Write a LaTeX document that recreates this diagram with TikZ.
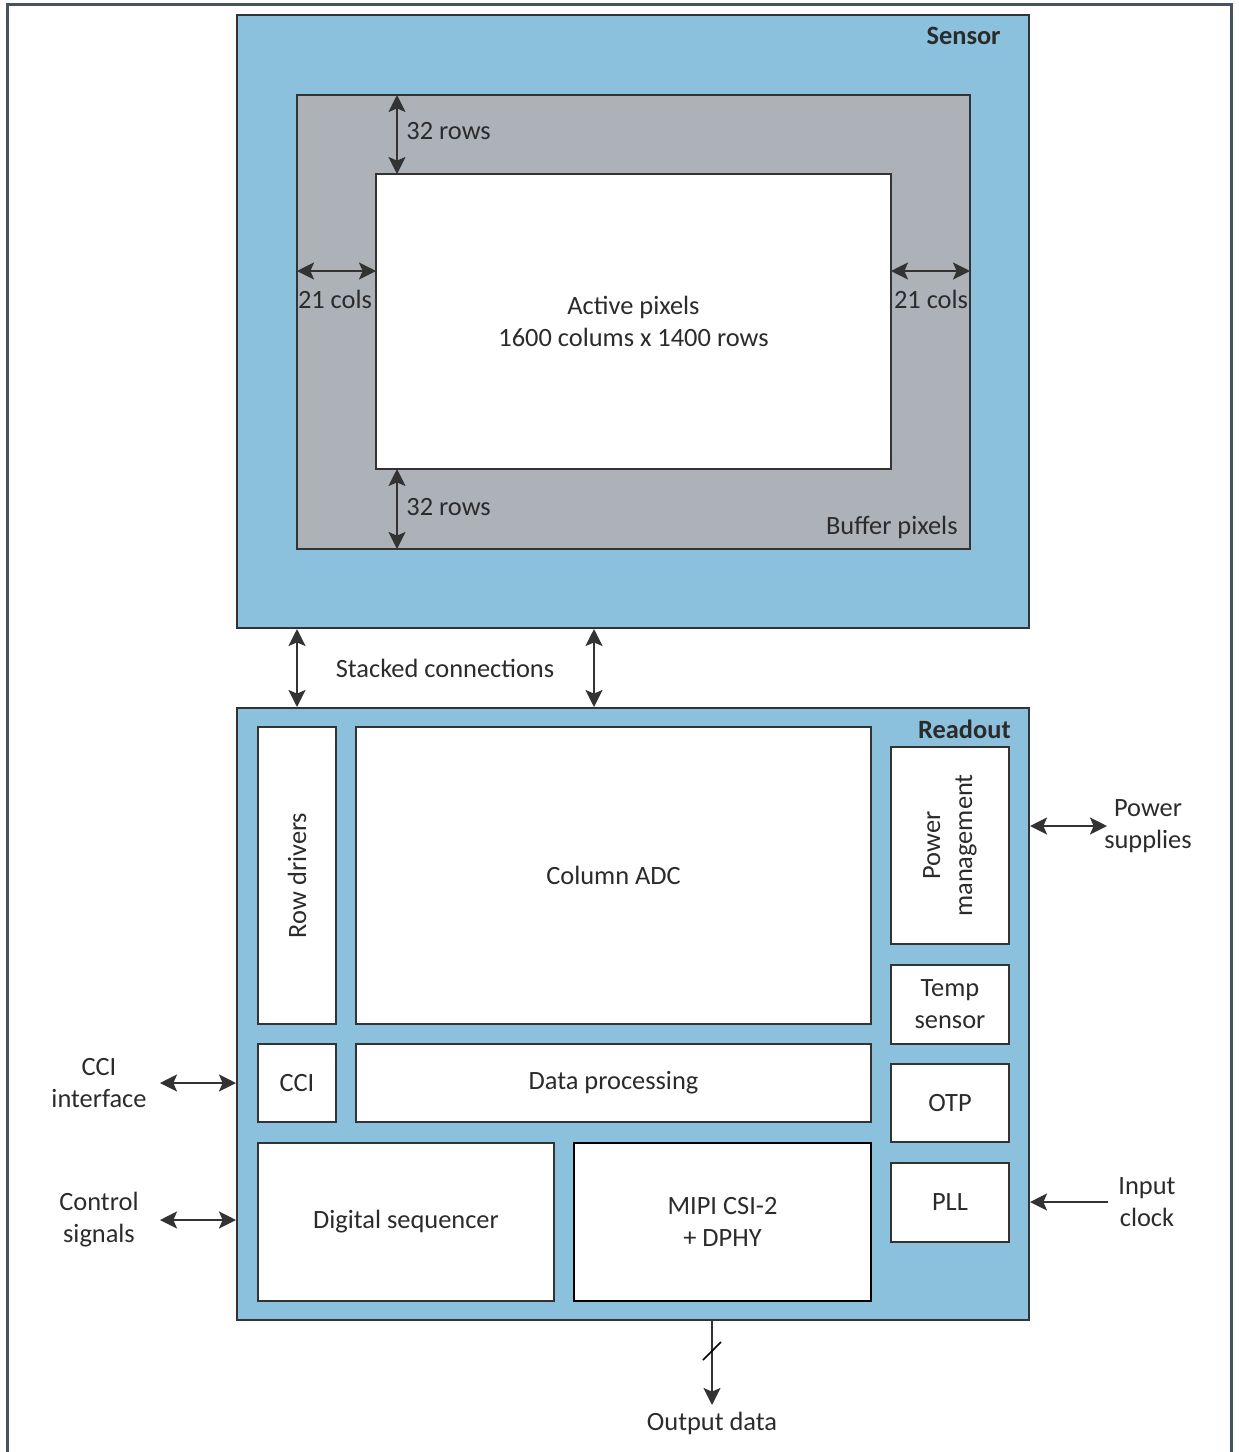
\documentclass[tikz,border=0pt]{standalone}
\usepackage{fontspec}
\setmainfont{Carlito}
\usetikzlibrary{arrows.meta,fit}
\definecolor{frameC}{HTML}{46545E}
\definecolor{skyC}{HTML}{8BC1DC}
\definecolor{bufC}{HTML}{ADB1B8}
\definecolor{lineC}{HTML}{333333}
\definecolor{txtC}{HTML}{2B2B2B}
\begin{document}
\begin{tikzpicture}[x=0.5pt,y=-0.5pt,
  every node/.style={font=\fontsize{13.2}{16}\selectfont, text=txtC},
  region/.style={draw=lineC, line width=1pt, inner sep=0pt},
  blk/.style={draw=lineC, line width=1pt, fill=white, inner sep=0pt},
  conn/.style={draw=lineC, line width=1.1pt, {Stealth[length=8.5pt,width=8.5pt,inset=1.8pt]}-{Stealth[length=8.5pt,width=8.5pt,inset=1.8pt]}},
  oneway/.style={draw=lineC, line width=1.1pt, -{Stealth[length=8.5pt,width=8.5pt,inset=1.8pt]}},
  lbl/.style={inner sep=1pt, align=center},
  ttl/.style={font=\fontsize{13.2}{16}\selectfont\bfseries, inner sep=0pt}
]
\useasboundingbox (0,0) rectangle (1238,1452);
% outer frame
\draw[frameC, line width=1.6pt] (7.5,1452) -- (7.5,4.5) -- (1231.5,4.5) -- (1231.5,1452);

% Sensor
\node[region, fill=skyC, fit={(237,15)(1029,628)}] (sensor) {};
\node[ttl, anchor=east] (sensorT) at (1001,36) {Sensor};
\node[region, fill=bufC, fit={(297,95)(970,549)}] (buffer) {};
\node[blk, fit={(376,174)(891,469)}] (active) {};
\node[lbl] (activeT) at (active.center) {Active pixels\\1600 colums x 1400 rows};
\node[lbl, anchor=east] (bufT) at (960,527) {Buffer pixels};

% dimension arrows
\coordinate (tA) at (397,95);  \coordinate (tB) at (397,174);
\draw[conn] (tA) -- (tB);
\node[lbl, anchor=west] (r1) at (404,131) {32 rows};
\coordinate (bA) at (397,469); \coordinate (bB) at (397,549);
\draw[conn] (bA) -- (bB);
\node[lbl, anchor=west] (r2) at (404,507) {32 rows};
\coordinate (lA) at (297,271); \coordinate (lB) at (376,271);
\draw[conn] (lA) -- (lB);
\node[lbl] (c1) at (335,299) {21 cols};
\coordinate (rA) at (891,271); \coordinate (rB) at (970,271);
\draw[conn] (rA) -- (rB);
\node[lbl] (c2) at (931,299) {21 cols};

% Readout
\node[region, fill=skyC, fit={(237,708)(1029,1320)}] (readout) {};
\node[ttl, anchor=east] (readT) at (1011,729) {Readout};

% stacked connections
\draw[conn] (sensor.south -| 297,0) -- (readout.north -| 297,0);
\draw[conn] (sensor.south -| 594,0) -- (readout.north -| 594,0);
\node[lbl] (stackT) at (445,668) {Stacked connections};

% blocks
\node[blk, fit={(258,727)(336,1024)}] (rowdrv) {};
\node[lbl, rotate=90] (rowdrvT) at (rowdrv.center) {Row drivers};
\node[blk, fit={(356,727)(871,1024)}] (adc) {};
\node[lbl] (adcT) at (adc.center) {Column ADC};
\node[blk, fit={(891,747)(1009,944)}] (pwr) {};
\node[lbl, rotate=90] (pwrT) at (pwr.center) {Power\\management};
\node[blk, fit={(891,965)(1009,1044)}] (temp) {};
\node[lbl] (tempT) at (temp.center) {Temp\\sensor};
\node[blk, fit={(891,1064)(1009,1142)}] (otp) {};
\node[lbl] (otpT) at (otp.center) {OTP};
\node[blk, fit={(891,1163)(1009,1242)}] (pll) {};
\node[lbl] (pllT) at (pll.center) {PLL};
\node[blk, fit={(258,1044)(336,1122)}] (cci) {};
\node[lbl] (cciIT) at (cci.center) {CCI};
\node[blk, fit={(356,1044)(871,1122)}] (dp) {};
\node[lbl] (dpT) at (dp.center) {Data processing};
\node[blk, fit={(258,1143)(554,1301)}] (seq) {};
\node[lbl] (seqT) at (seq.center) {Digital sequencer};
\node[blk, draw=black, line width=1.2pt, fit={(574,1143)(871,1301)}] (mipi) {};
\node[lbl] (mipiT) at (mipi.center) {MIPI CSI-2\\+ DPHY};

% external connections
\coordinate (psE) at (1107,826);
\draw[conn] (readout.east |- psE) -- (psE);
\node[lbl] (psT) at (1148,826) {Power\\supplies};
\coordinate (icE) at (1108,1202);
\draw[oneway] (icE) -- (readout.east |- icE);
\node[lbl] (icT) at (1147,1202) {Input\\clock};
\coordinate (cciE) at (160,1083);
\draw[conn] (cciE) -- (readout.west |- cciE);
\node[lbl] (cciT) at (99,1083) {CCI\\interface};
\coordinate (ctlE) at (160,1220);
\draw[conn] (ctlE) -- (readout.west |- ctlE);
\node[lbl] (ctlT) at (99,1220) {Control\\signals};
\coordinate (outE) at (712,1405);
\draw[oneway] (readout.south -| outE) -- (outE);
\draw[black, line width=0.8pt] (703,1360) -- (721,1342);
\node[lbl] (outT) at (712,1423) {Output data};
\end{tikzpicture}
\end{document}
